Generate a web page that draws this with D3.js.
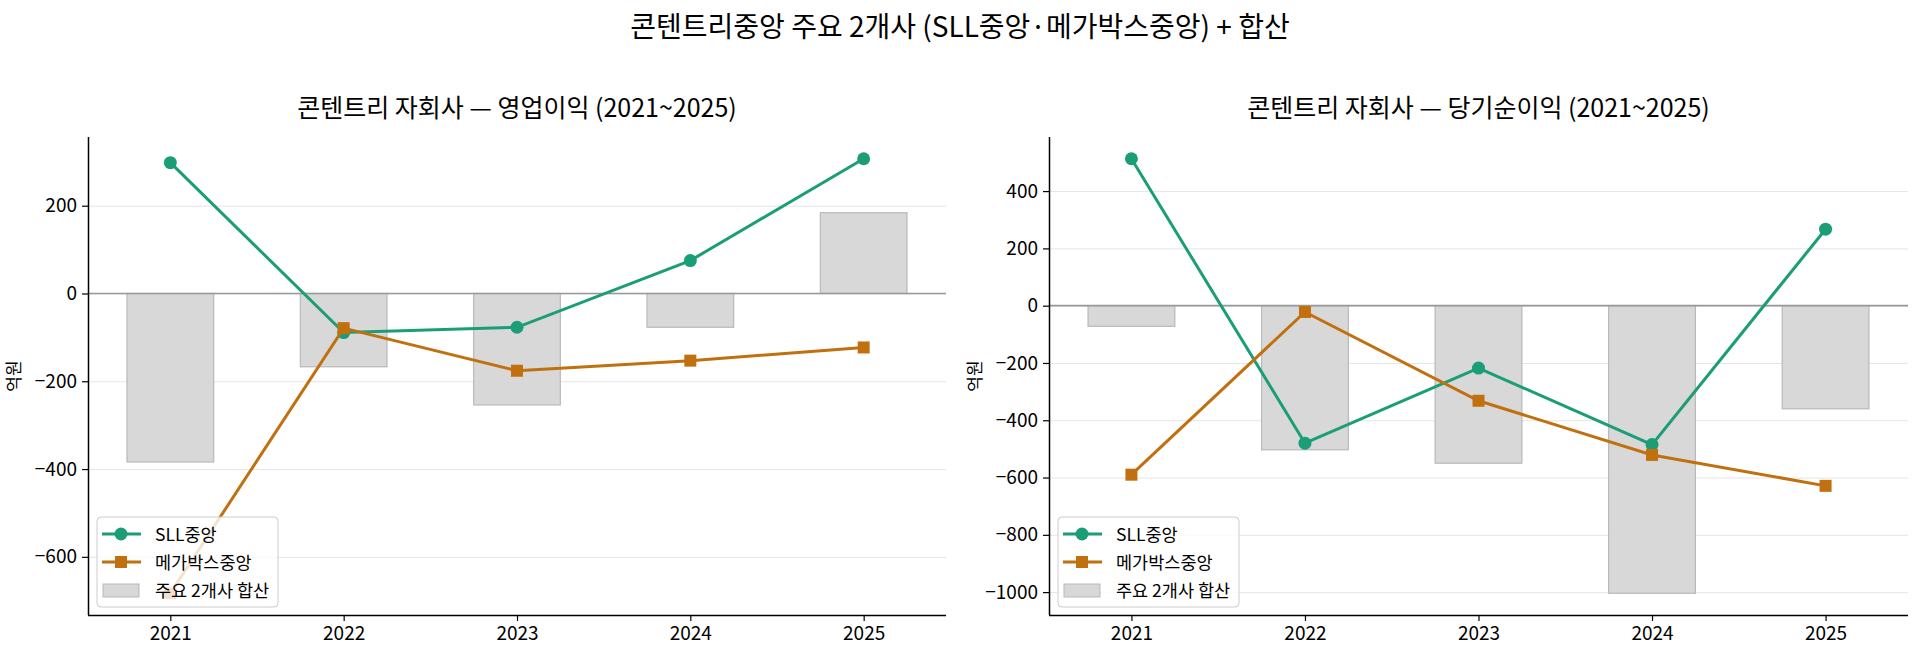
<!DOCTYPE html>
<html>
<head>
<meta charset="utf-8">
<script src="https://cdn.jsdelivr.net/npm/d3@7"></script>
<style>
  body { margin: 0; background: #fff; }
  svg text { font-family: "Noto Sans CJK KR", "Noto Sans", sans-serif; fill: #000; }
</style>
</head>
<body>
<div id="chart"></div>
<script>
var years = ["2021", "2022", "2023", "2024", "2025"];

// 영업이익 (억원)
var opSLL = [298, -89, -77, 75, 307];
var opMega = [-683, -79, -176, -153, -123];
var opSum = [-384, -167, -254, -77, 184];

// 당기순이익 (억원)
var niSLL = [513, -480, -218, -485, 267];
var niMega = [-590, -22, -332, -521, -629];
var niSum = [-72, -503, -550, -1004, -360];

var opTicks = [200, 0, -200, -400, -600];
var niTicks = [400, 200, 0, -200, -400, -600, -800, -1000];

var seriesNames = ["SLL중앙", "메가박스중앙", "주요 2개사 합산"];

var svg_width = 1920;
var svg_height = 661;

var green = "#1b9e77";
var orange = "#c0700f";

var svg = d3.select('#chart')
  .append('svg')
  .attr('width', svg_width)
  .attr('height', svg_height);

svg.append('text')
  .attr('x', 960)
  .attr('y', 37)
  .attr('text-anchor', 'middle')
  .style('font-size', '28px')
  .text('콘텐트리중앙 주요 2개사 (SLL중앙·메가박스중앙) + 합산');

function drawPanel(left, right, title, sll, mega, sum, ticks) {
  var top = 137, bottom = 615;
  var g = svg.append('g');

  var x = d3.scaleLinear().domain([-0.475, 4.475]).range([left, right]);
  var all = sll.concat(mega, sum, [0]);
  var lo = d3.min(all), hi = d3.max(all), pad = (hi - lo) * 0.05;
  var y = d3.scaleLinear().domain([lo - pad, hi + pad]).range([bottom, top]);

  // grid
  g.append('g')
    .attr('transform', 'translate(' + left + ',0)')
    .call(d3.axisLeft(y).tickValues(ticks).tickSize(-(right - left)).tickFormat(''))
    .call(function (s) {
      s.select('.domain').remove();
      s.selectAll('line').attr('stroke', '#e5e5e5').attr('stroke-width', 1);
    });

  // bars
  g.selectAll('rect.bar')
    .data(sum)
    .enter()
    .append('rect')
    .attr('class', 'bar')
    .attr('x', function (d, i) { return x(i - 0.25); })
    .attr('width', x(0.5) - x(0))
    .attr('y', function (d) { return y(Math.max(0, d)); })
    .attr('height', function (d) { return Math.abs(y(d) - y(0)); })
    .attr('fill', '#d8d8d8')
    .attr('stroke', '#b9b9b9')
    .attr('stroke-width', 1.2);

  // zero line
  g.append('line')
    .attr('x1', left).attr('x2', right)
    .attr('y1', y(0)).attr('y2', y(0))
    .attr('stroke', '#999')
    .attr('stroke-width', 1.7);

  var line = d3.line()
    .x(function (d, i) { return x(i); })
    .y(function (d) { return y(d); });

  g.append('path')
    .datum(sll)
    .attr('d', line)
    .attr('fill', 'none')
    .attr('stroke', green)
    .attr('stroke-width', 3);
  g.selectAll('circle.sll')
    .data(sll)
    .enter()
    .append('circle')
    .attr('class', 'sll')
    .attr('cx', function (d, i) { return x(i); })
    .attr('cy', function (d) { return y(d); })
    .attr('r', 6.5)
    .attr('fill', green);

  g.append('path')
    .datum(mega)
    .attr('d', line)
    .attr('fill', 'none')
    .attr('stroke', orange)
    .attr('stroke-width', 3);
  g.selectAll('rect.mega')
    .data(mega)
    .enter()
    .append('rect')
    .attr('class', 'mega')
    .attr('x', function (d, i) { return x(i) - 6; })
    .attr('y', function (d) { return y(d) - 6; })
    .attr('width', 12)
    .attr('height', 12)
    .attr('fill', orange);

  // axes
  var yAxis = g.append('g')
    .attr('transform', 'translate(' + left + ',0)')
    .call(d3.axisLeft(y).tickValues(ticks).tickSize(6).tickPadding(5).tickFormat(d3.format('d')));
  var xAxis = g.append('g')
    .attr('transform', 'translate(0,' + bottom + ')')
    .call(d3.axisBottom(x).tickValues([0, 1, 2, 3, 4]).tickSize(6).tickPadding(6)
      .tickFormat(function (d) { return years[d]; }));
  [yAxis, xAxis].forEach(function (a) {
    a.selectAll('text').style('font-size', '19px').attr('fill', '#000');
    a.selectAll('line').attr('stroke', '#000').attr('stroke-width', 1.2);
  });
  yAxis.select('.domain').attr('d', 'M0.5,' + top + 'V' + bottom).attr('stroke', '#000').attr('stroke-width', 1.5);
  xAxis.select('.domain').attr('d', 'M' + left + ',0.5H' + right).attr('stroke', '#000').attr('stroke-width', 1.5);

  // titles
  g.append('text')
    .attr('x', (left + right) / 2)
    .attr('y', 117)
    .attr('text-anchor', 'middle')
    .style('font-size', '25px')
    .text(title);
  g.append('text')
    .attr('transform', 'translate(' + (left - 68) + ',' + ((top + bottom) / 2) + ') rotate(-90)')
    .attr('text-anchor', 'middle')
    .style('font-size', '17px')
    .text('억원');

  // legend
  var lg = g.append('g').attr('transform', 'translate(' + (left + 9) + ',' + (bottom - 98) + ')');
  lg.append('rect')
    .attr('width', 181).attr('height', 90).attr('rx', 4)
    .attr('fill', 'rgba(255,255,255,0.8)')
    .attr('stroke', '#cccccc');
  var rows = [17, 45, 73];
  lg.append('line').attr('x1', 5).attr('x2', 44).attr('y1', rows[0]).attr('y2', rows[0])
    .attr('stroke', green).attr('stroke-width', 3);
  lg.append('circle').attr('cx', 24).attr('cy', rows[0]).attr('r', 6.5).attr('fill', green);
  lg.append('line').attr('x1', 5).attr('x2', 44).attr('y1', rows[1]).attr('y2', rows[1])
    .attr('stroke', orange).attr('stroke-width', 3);
  lg.append('rect').attr('x', 18).attr('y', rows[1] - 6).attr('width', 12).attr('height', 12).attr('fill', orange);
  lg.append('rect').attr('x', 6).attr('y', rows[2] - 6).attr('width', 36).attr('height', 13)
    .attr('fill', '#d8d8d8').attr('stroke', '#b9b9b9');
  lg.selectAll('text.lab')
    .data(seriesNames)
    .enter()
    .append('text')
    .attr('class', 'lab')
    .attr('x', 58)
    .attr('y', function (d, i) { return rows[i] + 6.5; })
    .style('font-size', '17.5px')
    .text(function (d) { return d; });
}

drawPanel(88, 946, '콘텐트리 자회사 — 영업이익 (2021~2025)', opSLL, opMega, opSum, opTicks);
drawPanel(1049, 1908, '콘텐트리 자회사 — 당기순이익 (2021~2025)', niSLL, niMega, niSum, niTicks);
</script>
</body>
</html>
